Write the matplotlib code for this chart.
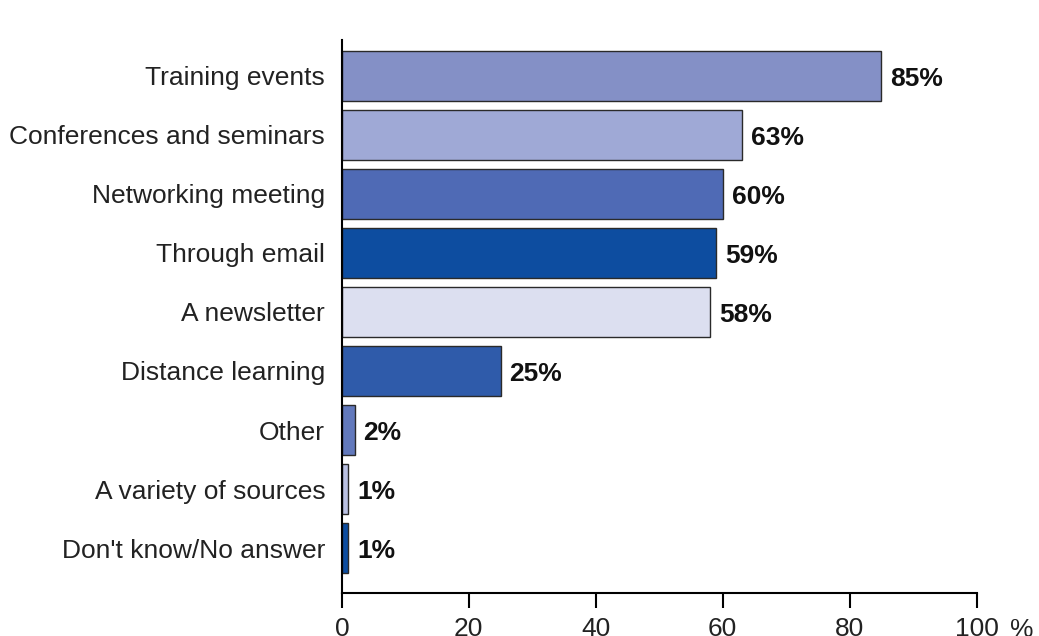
import matplotlib.pyplot as plt
import numpy as np

plt.rcParams['font.family'] = ['Liberation Sans', 'DejaVu Sans']

categories = ["Training events", "Conferences and seminars", "Networking meeting",
              "Through email", "A newsletter", "Distance learning", "Other",
              "A variety of sources", "Don't know/No answer"]
values = [85, 63, 60, 59, 58, 25, 2, 1, 1]
colors = ["#8490c6", "#9fa9d6", "#4f6ab5", "#0d4da0", "#dcdff0",
          "#2f5baa", "#6279bc", "#b9c0e2", "#0d4da0"]
xticks = [0, 20, 40, 60, 80, 100]

fig = plt.figure(figsize=(10.39, 6.36), dpi=100)
ax = fig.add_axes([0.329, 0.0676, 0.611, 0.870])

y = np.arange(len(categories))
ax.barh(y, values, height=0.85, color=colors, edgecolor="#2a2a2a", linewidth=1.0)

for yi, v in zip(y, values):
    ax.text(v + 1.4, yi + 0.05, f"{v}%", ha="left", va="center",
            fontsize=19, fontweight="bold", color="#111111")

ax.set_yticks(y)
ax.set_yticklabels(categories, fontsize=19, color="#222222")
ax.tick_params(axis="y", length=0, pad=12)
ax.set_xticks(xticks)
ax.set_xticklabels([str(t) for t in xticks], fontsize=19, color="#222222")
ax.tick_params(axis="x", length=11, width=1.5, direction="out", pad=6)
ax.set_xlim(0, 100)
ax.set_ylim(len(categories) - 1 + 0.76, -0.61)

for s in ["top", "right"]:
    ax.spines[s].set_visible(False)
for s in ["left", "bottom"]:
    ax.spines[s].set_linewidth(1.5)

# unit marker next to the last tick label
ax.text(1.053, -0.045, "%", transform=ax.transAxes, ha="left", va="top",
        fontsize=19, color="#222222")

fig.savefig("out.png", dpi=100)
